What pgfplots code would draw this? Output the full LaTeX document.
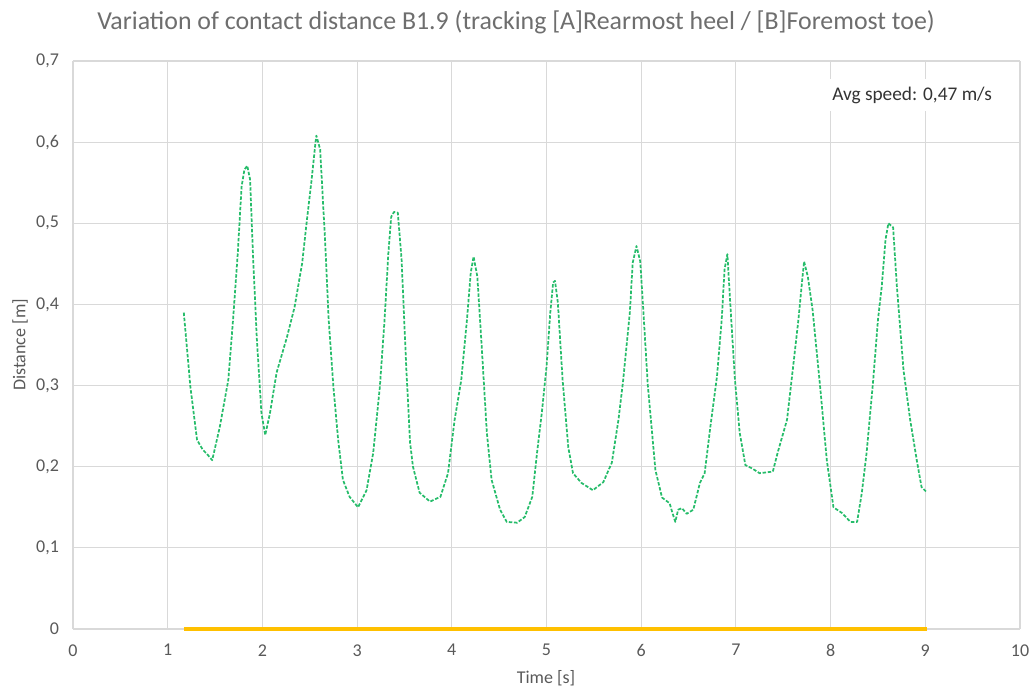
\documentclass[border=0pt]{standalone}
\usepackage{pgfplots}
\pgfplotsset{compat=1.18}
\usepackage{fontspec}
\setmainfont{Carlito}
\definecolor{txtgray}{HTML}{595959}
\definecolor{titlegray}{HTML}{6E6E6E}
\definecolor{gridgray}{HTML}{D9D9D9}
\definecolor{ser1}{HTML}{00B050}
\definecolor{ser2}{HTML}{FFC000}
\begin{document}
\begin{tikzpicture}
\useasboundingbox (-54.75pt,-43.5pt) rectangle (719.25pt,471.75pt);
\begin{axis}[
  at={(0pt,0pt)}, anchor=south west,
  width=710.25pt, height=426pt, scale only axis,
  xmin=0, xmax=10, ymin=0, ymax=0.7,
  xtick={0,1,...,10}, ytick={0,0.1,0.2,0.3,0.4,0.5,0.6,0.7},
  major tick length=0pt,
  axis line style={draw=none},
  grid=major, major grid style={gridgray, line width=0.8pt},
  tick label style={font=\fontsize{13.5}{15}\selectfont, text=txtgray},
  /pgf/number format/assume math mode=true,
  /pgf/number format/use comma,
  /pgf/number format/fixed,
  /pgf/number format/precision=1,
  yticklabel style={xshift=-7pt},
  xticklabel style={yshift=-8pt},
  clip=false,
]
\addplot[ser2, line width=2.3pt] coordinates {(1.17,0) (9.02,0)};
\addplot[ser1!85!white, line width=1.3pt, dash pattern=on 2.6pt off 1.3pt, line join=round] coordinates {
(1.17,0.390) (1.24,0.298) (1.31,0.233) (1.37,0.221) (1.42,0.215) (1.47,0.208)
(1.55,0.249) (1.64,0.307) (1.69,0.381) (1.74,0.463) (1.78,0.545) (1.81,0.566)
(1.84,0.571) (1.87,0.554) (1.90,0.463) (1.94,0.360) (1.99,0.266) (2.03,0.239)
(2.08,0.266) (2.15,0.316) (2.26,0.360) (2.34,0.397) (2.42,0.451) (2.47,0.504)
(2.52,0.554) (2.56,0.599) (2.57,0.608) (2.61,0.591) (2.66,0.483) (2.70,0.381)
(2.75,0.298) (2.80,0.233) (2.85,0.184) (2.92,0.163) (3.01,0.150) (3.10,0.171)
(3.17,0.217) (3.24,0.298) (3.29,0.381) (3.33,0.463) (3.36,0.508) (3.39,0.514)
(3.43,0.513) (3.47,0.455) (3.52,0.320) (3.56,0.229) (3.59,0.200) (3.66,0.168)
(3.77,0.157) (3.88,0.163) (3.96,0.192) (4.03,0.258) (4.10,0.307) (4.16,0.381)
(4.20,0.439) (4.23,0.459) (4.27,0.434) (4.32,0.340) (4.37,0.242) (4.42,0.184)
(4.51,0.147) (4.58,0.132) (4.69,0.131) (4.77,0.138) (4.85,0.163) (4.90,0.217)
(4.95,0.266) (5.00,0.323) (5.04,0.390) (5.07,0.427) (5.09,0.429) (5.12,0.402)
(5.17,0.307) (5.23,0.224) (5.28,0.192) (5.37,0.180) (5.49,0.171) (5.60,0.181)
(5.69,0.205) (5.76,0.258) (5.81,0.307) (5.88,0.390) (5.91,0.451) (5.95,0.472)
(5.99,0.453) (6.02,0.397) (6.07,0.300) (6.15,0.196) (6.22,0.162) (6.30,0.155)
(6.33,0.143) (6.36,0.132) (6.39,0.147) (6.43,0.149) (6.48,0.142) (6.55,0.147)
(6.62,0.180) (6.67,0.192) (6.73,0.249) (6.80,0.311) (6.85,0.381) (6.88,0.443)
(6.91,0.462) (6.94,0.402) (6.99,0.307) (7.04,0.242) (7.10,0.202) (7.17,0.198)
(7.25,0.192) (7.39,0.194) (7.44,0.217) (7.54,0.258) (7.60,0.319) (7.66,0.381)
(7.70,0.430) (7.72,0.453) (7.76,0.434) (7.81,0.393) (7.89,0.298) (7.96,0.208)
(8.03,0.150) (8.12,0.143) (8.21,0.132) (8.28,0.132) (8.33,0.168) (8.38,0.217)
(8.45,0.307) (8.50,0.381) (8.54,0.422) (8.58,0.480) (8.61,0.500) (8.66,0.495)
(8.70,0.422) (8.77,0.319) (8.84,0.258) (8.91,0.208) (8.96,0.175) (9.02,0.168)
};
\node[fill=white, inner xsep=6pt, inner ysep=6pt, text=black!80, font=\fontsize{14.5}{16}\selectfont] at (axis cs:8.86,0.658) {Avg speed: 0,47 m/s};
\end{axis}
\node[text=titlegray, font=\fontsize{19.4}{22}\selectfont] at (332.25pt,455.25pt) {Variation of contact distance B1.9 (tracking [A]Rearmost heel / [B]Foremost toe)};
\node[text=txtgray, rotate=90, font=\fontsize{13.5}{15}\selectfont] at (-39.75pt,213pt) {Distance [m]};
\node[text=txtgray, font=\fontsize{13.5}{15}\selectfont] at (354.75pt,-36.75pt) {Time [s]};
\end{tikzpicture}
\end{document}
